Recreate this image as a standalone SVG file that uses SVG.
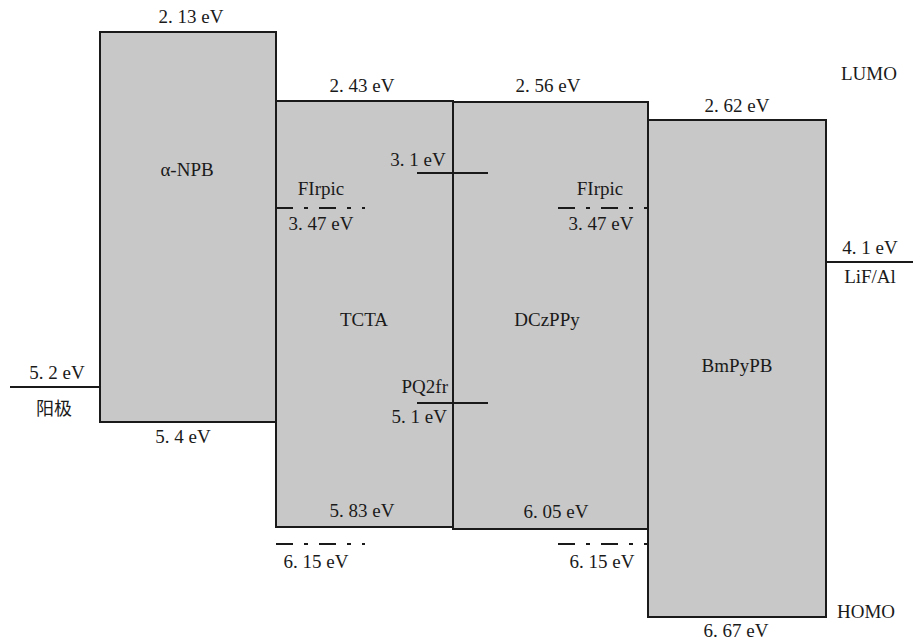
<svg xmlns="http://www.w3.org/2000/svg" width="913" height="641" viewBox="0 0 913 641">
<style>
.box{fill:#c8c8c8;stroke:#1a1a1a;stroke-width:2}
.lvl{stroke:#1a1a1a;stroke-width:2;fill:none}
.dash{stroke:#1a1a1a;stroke-width:2;fill:none;stroke-dasharray:17 11 4 11}
text{font-family:"Liberation Serif","Times New Roman",serif;font-size:19px;fill:#1a1a1a;text-anchor:middle}
.cjk{font-family:"Liberation Serif","Noto Sans CJK SC",serif;font-size:18px}
.end{text-anchor:end}
</style>
<rect width="913" height="641" fill="#ffffff"/>
<g id="npb">
<rect class="box" x="100" y="32" width="176" height="390"/>
<text x="191" y="23">2. 13 eV</text>
<text x="187" y="176">α-NPB</text>
<text x="183" y="443">5. 4 eV</text>
</g>
<g id="tcta">
<rect class="box" x="276" y="101" width="177" height="426"/>
<text x="362" y="92">2. 43 eV</text>
<text x="364" y="326">TCTA</text>
<text x="362" y="517">5. 83 eV</text>
</g>
<g id="dczppy">
<rect class="box" x="453" y="102" width="195" height="427"/>
<text x="548" y="92">2. 56 eV</text>
<text x="547" y="326">DCzPPy</text>
<text x="556" y="518">6. 05 eV</text>
</g>
<g id="bmpypb">
<rect class="box" x="648" y="120" width="178" height="497"/>
<text x="737" y="112">2. 62 eV</text>
<text x="737" y="372">BmPyPB</text>
<text x="736" y="637">6. 67 eV</text>
</g>
<g id="anode">
<line class="lvl" x1="10" y1="387" x2="100" y2="387"/>
<text x="57" y="379">5. 2 eV</text>
<text class="cjk" x="54" y="415">阳极</text>
</g>
<g id="cathode">
<line class="lvl" x1="826" y1="262" x2="913" y2="262"/>
<text x="870" y="254">4. 1 eV</text>
<text x="870" y="283">LiF/Al</text>
</g>
<g id="labels">
<text x="869" y="80">LUMO</text>
<text x="866" y="618">HOMO</text>
</g>
<g id="pq2fr">
<line class="lvl" x1="417" y1="173" x2="488" y2="173"/>
<text x="418" y="166">3. 1 eV</text>
<line class="lvl" x1="417" y1="403" x2="488" y2="403"/>
<text class="end" x="448" y="393">PQ2fr</text>
<text class="end" x="447" y="423">5. 1 eV</text>
</g>
<g id="firpic-left">
<line class="dash" x1="276" y1="208" x2="365" y2="208"/>
<text x="321" y="195">FIrpic</text>
<text x="321" y="230">3. 47 eV</text>
<line class="dash" x1="276" y1="544" x2="365" y2="544"/>
<text x="316" y="568">6. 15 eV</text>
</g>
<g id="firpic-right">
<line class="dash" x1="558" y1="208" x2="648" y2="208"/>
<text x="600" y="195">FIrpic</text>
<text x="601" y="230">3. 47 eV</text>
<line class="dash" x1="558" y1="544" x2="648" y2="544"/>
<text x="602" y="568">6. 15 eV</text>
</g>
<g id="connectors"></g>
</svg>
